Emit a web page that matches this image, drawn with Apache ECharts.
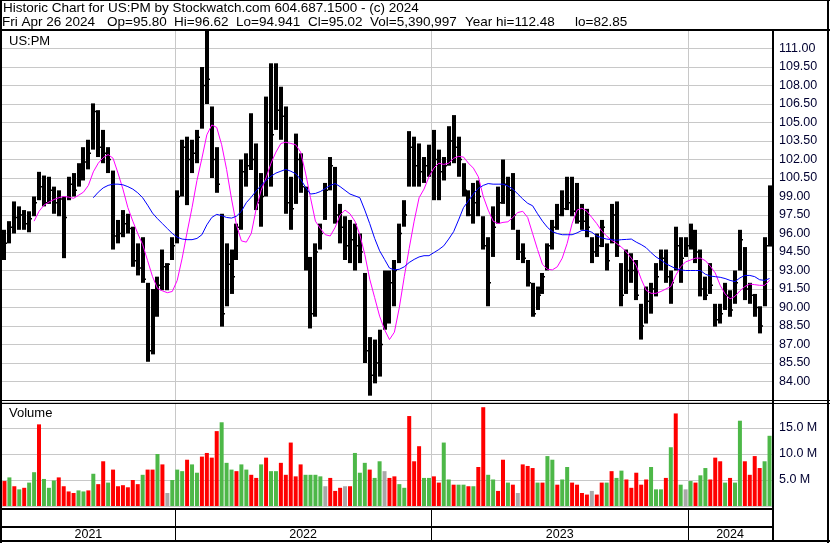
<!DOCTYPE html>
<html><head><meta charset="utf-8">
<script src="https://cdn.jsdelivr.net/npm/echarts/dist/echarts.min.js"></script>
<style>html,body{margin:0;padding:0;background:#fff}#c{width:830px;height:543px}</style>
</head><body><div id="c"></div>
<script>
// ---- data (weekly readings, week starting dates from May 3 2021) ----
const startDate = '2021-05-03';
const weekCount = 156;
const yearStarts = ['2022-01-03', '2023-01-02', '2024-01-01'];
const yearLabels = ['2021', '2022', '2023', '2024'];

const priceHigh = [96.3,97.0,98.6,98.2,97.9,97.8,99.0,101.0,100.7,100.6,
99.8,99.5,99.0,100.6,100.9,101.7,103.0,103.6,106.55,106.0,
104.4,103.0,101.1,97.1,97.9,97.6,96.55,95.2,95.7,92.0,
91.5,92.5,94.7,93.6,95.7,99.5,103.6,103.85,103.6,104.4,
109.5,112.48,106.3,103.0,97.6,95.2,94.7,96.8,102.0,102.5,
105.75,103.3,100.9,107.1,109.8,109.8,107.9,106.3,100.6,104.1,
102.5,99.8,94.1,95.2,96.8,100.1,102.2,101.4,98.4,97.4,
97.1,96.8,96.0,92.8,87.6,87.4,88.2,93.0,93.0,93.85,
96.8,98.7,104.3,103.85,103.3,102.2,103.2,104.4,102.8,102.2,
104.7,105.6,103.85,101.7,99.5,100.1,100.3,97.4,95.7,98.2,
99.8,102.0,100.6,100.9,96.3,95.2,93.85,92.0,91.7,92.8,
95.2,97.1,98.4,99.5,100.6,100.6,100.1,98.4,98.0,95.7,
96.0,97.1,95.2,98.4,98.6,93.6,94.7,94.4,93.85,90.3,
91.7,92.0,93.6,94.7,94.7,93.0,96.55,95.7,95.7,96.8,
96.3,94.7,92.5,93.6,90.3,90.3,92.0,91.4,93.0,96.3,
94.9,92.0,91.1,90.1,95.7,99.9];

const priceLow = [93.85,95.2,96.0,96.3,96.3,96.1,97.4,98.7,98.2,98.4,
97.6,97.4,94.0,98.7,99.0,99.8,100.3,101.2,102.8,102.2,
101.7,100.9,94.7,95.2,95.7,96.0,93.3,92.6,92.0,85.6,
86.2,89.25,91.4,91.4,93.85,95.2,99.0,98.3,100.9,101.7,
104.5,106.5,100.5,99.3,88.45,90.1,91.1,93.85,96.3,99.8,
101.15,97.9,96.55,99.0,99.8,104.4,103.6,97.6,96.3,98.4,
99.3,93.0,88.3,89.25,94.7,97.1,99.5,96.8,95.2,93.85,
93.6,93.0,93.6,85.5,82.85,83.85,84.4,88.2,88.7,90.1,
93.6,96.55,99.8,99.8,99.8,100.1,100.6,98.7,98.7,100.3,
101.5,101.7,100.6,99.0,97.4,96.8,97.4,94.7,90.1,94.1,
96.8,98.4,97.4,96.3,93.85,93.6,91.7,89.25,89.8,91.1,
93.0,94.7,96.3,97.4,97.9,97.4,96.8,96.3,95.7,93.6,
94.1,94.9,93.0,95.2,94.1,90.1,91.1,92.0,90.6,87.4,
88.7,89.5,90.9,93.0,92.0,90.3,93.0,92.0,94.1,94.7,
93.6,90.9,90.6,91.1,88.45,88.7,89.8,89.25,90.3,93.0,
90.6,90.3,89.25,87.9,90.1,94.94];

const priceClose = [95.2,96.5,97.3,97.5,96.8,97.2,98.5,99.8,98.5,99.5,
98.5,98.8,97.3,100.0,99.5,101.0,101.8,102.5,105.9,103.0,
102.5,102.0,95.8,96.0,96.8,96.4,93.8,93.2,92.3,86.5,
90.5,91.8,93.3,93.5,95.0,99.0,103.0,102.0,102.5,103.8,
108.0,108.5,102.0,100.0,89.5,93.5,92.5,96.5,101.0,101.5,
102.0,98.5,99.0,105.0,104.0,106.0,105.5,98.5,98.0,102.0,
99.8,93.5,89.5,94.5,96.0,99.5,101.5,97.5,96.5,95.0,
95.5,95.0,94.5,86.5,84.5,85.5,87.0,91.5,92.0,93.0,
96.0,97.5,103.0,101.5,101.0,101.5,101.0,102.0,101.0,101.5,
103.5,103.0,102.0,99.5,97.5,98.5,99.0,95.0,92.0,96.5,
98.5,100.0,99.5,97.5,94.5,94.0,92.0,89.5,91.0,92.5,
95.0,96.5,97.5,98.0,98.5,97.8,97.0,97.0,96.5,94.5,
95.0,96.5,93.8,97.5,95.0,91.0,93.0,93.0,91.0,88.5,
90.5,91.5,92.5,94.0,92.5,92.0,95.0,94.0,95.0,95.5,
94.5,91.5,91.0,91.8,89.0,89.5,91.0,89.8,92.0,95.5,
91.5,91.0,90.0,88.5,95.0,95.02];

const ma50 = [null,null,null,null,null,null,97.0,97.8,98.3,98.55,
98.75,98.9,99.0,98.95,98.85,99.1,99.35,99.9,101.0,101.7,
102.15,102.4,102.1,100.9,99.6,98.1,97.0,96.0,95.1,93.8,
92.5,91.55,91.35,91.2,91.3,92.2,94.0,96.1,98.1,100.3,
102.1,104.0,104.8,104.6,103.2,101.2,98.8,96.7,95.4,95.3,
96.0,98.0,99.5,100.5,101.7,102.6,103.3,103.4,103.3,103.2,
102.6,100.9,98.9,97.0,96.4,95.9,95.8,96.5,97.5,97.9,
97.6,97.0,95.9,94.3,92.3,90.8,89.3,88.2,87.4,88.0,
90.0,92.5,94.8,97.0,98.9,99.6,100.6,101.3,101.7,101.6,
101.7,102.1,102.25,102.2,101.7,101.3,100.6,99.0,97.9,97.0,
96.8,96.9,96.95,97.3,97.7,97.8,97.3,96.0,94.7,93.5,
93.1,93.05,93.3,94.0,95.2,96.8,97.9,98.05,97.8,97.3,
96.8,96.2,95.8,95.45,95.2,94.9,94.5,94.0,93.4,92.3,
91.4,91.15,91.15,91.3,91.5,91.7,92.6,93.3,93.7,93.85,
94.0,94.0,93.8,93.35,92.8,91.8,91.1,90.7,90.9,91.35,
91.7,91.9,91.85,91.8,91.8,92.2];

const ma200 = [null,null,null,null,null,null,null,null,null,null,
null,null,null,null,null,null,null,null,98.9,99.35,
99.7,99.9,100.0,100.0,99.95,99.8,99.6,99.3,98.9,98.3,
97.65,97.2,96.8,96.4,96.0,95.7,95.55,95.5,95.5,95.6,
95.9,96.7,97.3,97.55,97.45,97.3,97.25,97.4,97.8,98.5,
98.95,99.45,99.9,100.3,100.65,100.9,101.05,101.2,101.05,100.85,
100.4,99.75,99.2,99.25,99.4,99.65,99.9,100.05,99.8,99.5,
99.2,99.05,98.9,97.9,96.8,95.6,94.6,93.9,93.2,93.05,
93.1,93.3,93.65,93.9,94.1,94.2,94.2,94.45,94.7,95.0,
95.55,96.15,97.1,98.1,98.65,99.2,99.66,99.9,100.05,100.0,
100.0,100.0,99.85,99.6,99.2,98.8,98.45,98.25,97.6,97.0,
96.5,96.15,96.0,95.9,95.9,95.9,96.05,96.25,96.25,96.1,
95.8,95.65,95.55,95.5,95.45,95.5,95.52,95.55,95.3,95.1,
94.85,94.45,94.1,93.85,93.55,93.35,93.15,93.05,93.0,93.0,
93.0,93.0,92.7,92.55,92.5,92.45,92.35,92.2,92.1,92.4,
92.6,92.6,92.5,92.25,92.2,92.35];

// volume in millions of shares
const volume = [4.8,5.5,3.8,3.2,3.5,4.5,6.5,15.7,5.2,3.5,
4.9,5.5,3.8,2.8,2.5,3.0,2.8,3.0,6.2,4.2,
8.6,4.5,7.0,3.8,4.0,3.6,5.0,4.2,6.0,7.0,
7.0,10.0,8.0,2.5,5.0,7.0,6.7,8.9,8.0,6.4,
9.5,10.2,9.3,14.4,16.1,8.3,7.0,6.7,8.0,7.0,
6.0,5.4,8.0,9.3,6.7,6.7,8.3,6.0,12.2,5.7,
8.0,6.0,6.0,6.0,5.7,3.8,5.4,2.9,3.5,3.8,
3.8,10.2,6.4,8.3,7.0,5.4,8.6,6.7,5.4,5.7,
4.2,3.5,17.3,8.6,11.5,5.4,5.4,5.7,4.5,12.2,
5.1,4.1,4.1,4.1,3.8,3.8,7.5,19.0,6.0,5.1,
2.9,8.9,4.5,4.1,2.5,8.0,7.7,7.3,4.5,4.5,
9.6,8.9,4.1,5.1,7.5,4.5,4.1,2.5,2.2,2.9,
2.2,4.5,4.5,6.7,5.4,6.8,5.1,3.5,6.4,4.1,
5.1,7.5,3.2,3.2,5.4,11.3,17.8,4.1,3.2,4.8,
4.5,5.9,7.3,5.1,9.3,8.6,4.5,5.4,4.5,16.4,
8.6,6.0,9.6,7.3,8.6,13.5];
// r = down, g = up, n = unchanged
const volDir = ('rgrgrggrgg' + 'grrrrggrgr' + 'rgrrrrrrgr' + 'rgrngggrgg' + 'rrrrgggrgg' +
  'rrgrggrrrr' + 'rggggnrrrn' + 'rgggrggnrr' + 'ggrrrggrrg' + 'grggrgrrgg' +
  'rrgrnrrrgr' + 'ggrggrrrrn' + 'rrgrggrrrr' + 'rgggrgrgng' + 'rggrrrgrgg' + 'rrrrgg').split('');

const headerTitle = 'Historic Chart for US:PM by Stockwatch.com 604.687.1500 - (c) 2024';
const headerParts = ['Fri Apr 26 2024', 'Op=95.80', 'Hi=96.62', 'Lo=94.941', 'Cl=95.02', 'Vol=5,390,997', 'Year hi=112.48', 'lo=82.85'];

// ---- build ----
const weeks = [];
{
  const d0 = new Date(startDate + 'T00:00:00Z').getTime();
  for (let i = 0; i < weekCount; i++) weeks.push(new Date(d0 + i * 7 * 864e5).toISOString().slice(0, 10));
}
const yearStartIdx = yearStarts.map(d => weeks.indexOf(d));
const yearRanges = yearLabels.map((lab, k) => [k === 0 ? 0 : yearStartIdx[k - 1], k < yearStartIdx.length ? yearStartIdx[k] - 1 : weekCount - 1, 0.5]);
const ohlc = weeks.map((w, i) => [i, priceLow[i], priceHigh[i], priceClose[i]]);
const volColors = { r: '#ff0000', g: '#4db848', n: '#a8a8a8' };
const FONT = "'Liberation Sans', Arial, sans-serif";

const chart = echarts.init(document.getElementById('c'), null, { renderer: 'canvas' });

function sepRenderer(color) {
  return function (params, api) {
    const cs = params.coordSys;
    const band = api.size([1, 0])[0];
    const x = Math.round(api.coord([api.value(0), api.value(1)])[0] - band / 2);
    return { type: 'rect', shape: { x: x, y: cs.y, width: 1, height: cs.height }, style: { fill: color } };
  };
}

const hdrX = [2, 107, 174, 236, 308, 370, 465, 575];
const graphics = [];
function box(x, y, w, h) { graphics.push({ type: 'rect', z: 100, silent: true, shape: { x, y, width: w, height: h }, style: { fill: '#000' } }); }
box(0, 0, 830, 1);        // top
box(0, 0, 2, 543);        // left
box(827, 0, 2, 543);      // right outer
box(0, 29, 830, 2);       // under header
box(772, 29, 2, 513);     // plot right border
box(0, 400, 830, 1);      // price/volume divider
box(0, 403, 830, 1);
box(0, 508, 773, 2);      // strip lines
box(0, 526, 773, 2);
box(0, 540, 830, 2);
graphics.push({ type: 'text', z: 101, style: { text: headerTitle, x: 3, y: 8.5, font: '13.5px ' + FONT, fill: '#000', textVerticalAlign: 'middle', verticalAlign: 'middle' } });
headerParts.forEach((t, k) => graphics.push({ type: 'text', z: 101, style: { text: t, x: hdrX[k], y: 22.5, font: '13.5px ' + FONT, fill: '#000', textVerticalAlign: 'middle', verticalAlign: 'middle' } }));
graphics.push({ type: 'text', z: 101, style: { text: 'US:PM', x: 9, y: 41, font: '13px ' + FONT, fill: '#000', textVerticalAlign: 'middle', verticalAlign: 'middle' } });
graphics.push({ type: 'text', z: 101, style: { text: 'Volume', x: 9, y: 413.5, font: '13px ' + FONT, fill: '#000', textVerticalAlign: 'middle', verticalAlign: 'middle' } });

const xBase = { type: 'category', data: weeks, boundaryGap: true, axisLine: { show: false }, axisTick: { show: false }, axisLabel: { show: false }, splitLine: { show: false } };

chart.setOption({
  animation: false,
  backgroundColor: '#fff',
  grid: [
    { left: 2, top: 30, width: 770, height: 370 },
    { left: 2, top: 402, width: 770, height: 104 },
    { left: 2, top: 508, width: 770, height: 34 }
  ],
  xAxis: [Object.assign({ gridIndex: 0 }, xBase), Object.assign({ gridIndex: 1 }, xBase), Object.assign({ gridIndex: 2 }, xBase)],
  yAxis: [
    { type: 'value', gridIndex: 0, position: 'right', min: 82.5, max: 112.5, interval: 1.5,
      axisLine: { show: false }, axisTick: { show: false },
      splitLine: { lineStyle: { color: '#c8c8c8', width: 1 } },
      axisLabel: { margin: 7, color: '#000030', fontSize: 12.5, fontFamily: FONT, formatter: v => (v < 83 || v > 112) ? '' : v.toFixed(2) } },
    { type: 'value', gridIndex: 1, position: 'right', min: 0, max: 20, interval: 5,
      axisLine: { show: false }, axisTick: { show: false },
      splitLine: { lineStyle: { color: '#c8c8c8', width: 1 } },
      axisLabel: { margin: 7, color: '#000030', fontSize: 12.5, fontFamily: FONT, formatter: v => (v <= 0 || v >= 20) ? '' : v.toFixed(1) + ' M' } },
    { type: 'value', gridIndex: 2, min: 0, max: 1, show: false }
  ],
  graphic: graphics,
  series: [
    { type: 'custom', xAxisIndex: 0, yAxisIndex: 0, z: 1, silent: true, renderItem: sepRenderer('#c8c8c8'),
      data: yearStartIdx.map(i => [i, 90]), encode: { x: 0, y: 1 } },
    { type: 'custom', xAxisIndex: 1, yAxisIndex: 1, z: 1, silent: true, renderItem: sepRenderer('#c8c8c8'),
      data: yearStartIdx.map(i => [i, 1]), encode: { x: 0, y: 1 } },
    { type: 'custom', name: 'Price', xAxisIndex: 0, yAxisIndex: 0, z: 3, silent: true,
      data: ohlc, encode: { x: 0, y: [1, 2] },
      renderItem: function (params, api) {
        const i = api.value(0);
        const pH = api.coord([i, api.value(2)]);
        const pL = api.coord([i, api.value(1)]);
        const pC = api.coord([i, api.value(3)]);
        const x = Math.round(pH[0]);
        return { type: 'group', children: [
          { type: 'rect', shape: { x: x - 2, y: pH[1], width: 4, height: Math.max(1, pL[1] - pH[1]) }, style: { fill: '#000' } },
          { type: 'rect', shape: { x: x + 2, y: pC[1] - 0.75, width: 1, height: 1.5 }, style: { fill: '#000' } }
        ] };
      } },
    { type: 'line', name: 'MA50', xAxisIndex: 0, yAxisIndex: 0, z: 4, data: ma50, showSymbol: false, symbol: 'none', silent: true,
      lineStyle: { color: '#ff00ff', width: 1 } },
    { type: 'line', name: 'MA200', xAxisIndex: 0, yAxisIndex: 0, z: 4, data: ma200, showSymbol: false, symbol: 'none', silent: true,
      lineStyle: { color: '#0000ff', width: 1 } },
    { type: 'bar', name: 'Volume', xAxisIndex: 1, yAxisIndex: 1, z: 3, barWidth: 4, silent: true,
      data: volume.map((v, i) => ({ value: v, itemStyle: { color: volColors[volDir[i]] } })) },
    { type: 'custom', xAxisIndex: 2, yAxisIndex: 2, z: 3, silent: true, data: yearRanges, encode: { x: [0, 1], y: 2 },
      renderItem: function (params, api) {
        const cs = params.coordSys;
        const band = api.size([1, 0])[0];
        const xs = api.coord([api.value(0), 0.5])[0] - band / 2;
        const xe = api.coord([api.value(1), 0.5])[0] + band / 2;
        const children = [
          { type: 'text', style: { text: yearLabels[params.dataIndex], x: (xs + xe) / 2, y: cs.y + 26.5, font: '12.5px ' + FONT, fill: '#000',
            textAlign: 'center', align: 'center', textVerticalAlign: 'middle', verticalAlign: 'middle' } }
        ];
        if (params.dataIndex > 0) children.push({ type: 'rect', shape: { x: Math.round(xs), y: cs.y, width: 1, height: cs.height }, style: { fill: '#000' } });
        return { type: 'group', children };
      } }
  ]
});
</script></body></html>
